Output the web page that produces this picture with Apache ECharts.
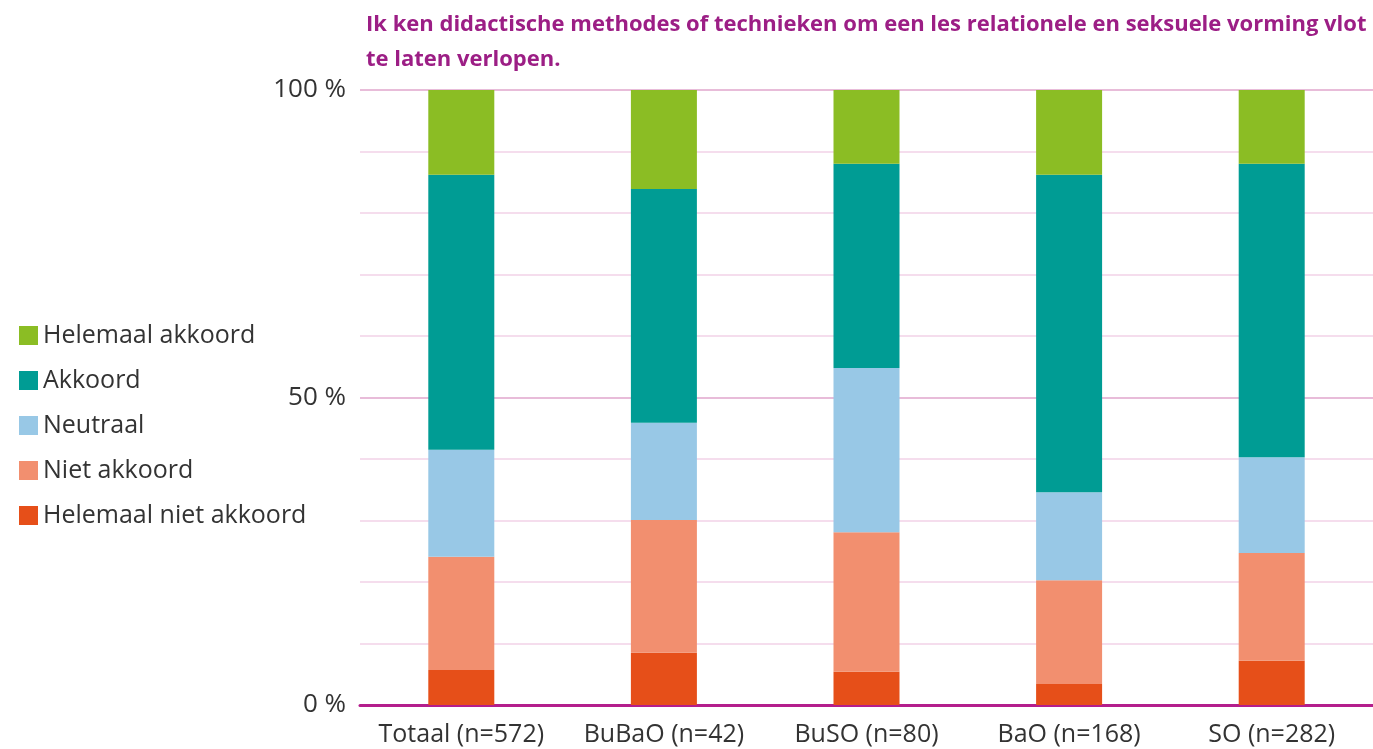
<!DOCTYPE html>
<html>
<head>
<meta charset="utf-8">
<script src="https://cdn.jsdelivr.net/npm/echarts@6/dist/echarts.min.js"></script>
<style>
html,body{margin:0;padding:0;background:#fff;}
#chart{width:1373px;height:749px;}
</style>
</head>
<body>
<div id="chart"></div>
<script>
const titleText = 'Ik ken didactische methodes of technieken om een les relationele en seksuele vorming vlot\nte laten verlopen.';
const categories = ['Totaal (n=572)', 'BuBaO (n=42)', 'BuSO (n=80)', 'BaO (n=168)', 'SO (n=282)'];
const seriesNames = ['Helemaal niet akkoord', 'Niet akkoord', 'Neutraal', 'Akkoord', 'Helemaal akkoord'];
const helemaalNietAkkoord = [5.7, 8.5, 5.4, 3.4, 7.2];
const nietAkkoord = [18.4, 21.6, 22.7, 16.9, 17.5];
const neutraal = [17.4, 15.8, 26.7, 14.3, 15.6];
const akkoord = [44.7, 38.0, 33.2, 51.6, 47.7];
const helemaalAkkoord = [13.8, 16.1, 12.0, 13.8, 12.0];
const yTickLabels = {0: '0 %', 50: '50 %', 100: '100 %'};

const seriesData = [helemaalNietAkkoord, nietAkkoord, neutraal, akkoord, helemaalAkkoord];
const colors = ['#e64f19', '#f28f6f', '#98c8e6', '#009c94', '#8bbd24'];
const FONT = '"Open Sans", "Noto Sans", sans-serif';

const chart = echarts.init(document.getElementById('chart'), null, {renderer: 'canvas'});
const light = '#f5dded', dark = '#e8bcd9';
chart.setOption({
  animation: false,
  textStyle: {fontFamily: FONT},
  title: {
    text: titleText,
    left: 361,
    top: 2,
    textStyle: {fontFamily: FONT, fontSize: 22, fontWeight: 'bold', color: '#9c1e85', lineHeight: 35}
  },
  legend: {
    orient: 'vertical',
    left: 14,
    top: 318,
    icon: 'rect',
    itemWidth: 19,
    itemHeight: 19,
    itemGap: 20,
    data: seriesNames.slice().reverse(),
    textStyle: {fontFamily: FONT, fontSize: 25, color: '#333'}
  },
  grid: {left: 360, right: 0, top: 90, bottom: 44, containLabel: false},
  xAxis: {
    type: 'category',
    data: categories,
    axisLine: {lineStyle: {color: '#b41e8c', width: 3}},
    axisTick: {show: false},
    axisLabel: {fontFamily: FONT, fontSize: 25, color: '#333', margin: 17, interval: 0, hideOverlap: false}
  },
  yAxis: {
    type: 'value',
    min: 0,
    max: 100,
    interval: 10,
    axisLine: {show: false},
    axisTick: {show: false},
    axisLabel: {
      fontFamily: FONT, fontSize: 26, color: '#333', margin: 14, padding: [6, 0, 0, 0],
      formatter: v => (yTickLabels[v] !== undefined ? yTickLabels[v] : '')
    },
    splitLine: {lineStyle: {color: [dark, light, light, light, light, dark, light, light, light, light], width: 2}}
  },
  series: seriesNames.map((name, i) => ({
    name: name,
    type: 'bar',
    stack: 'total',
    barWidth: 66,
    itemStyle: {color: colors[i]},
    data: seriesData[i]
  }))
});
</script>
</body>
</html>
